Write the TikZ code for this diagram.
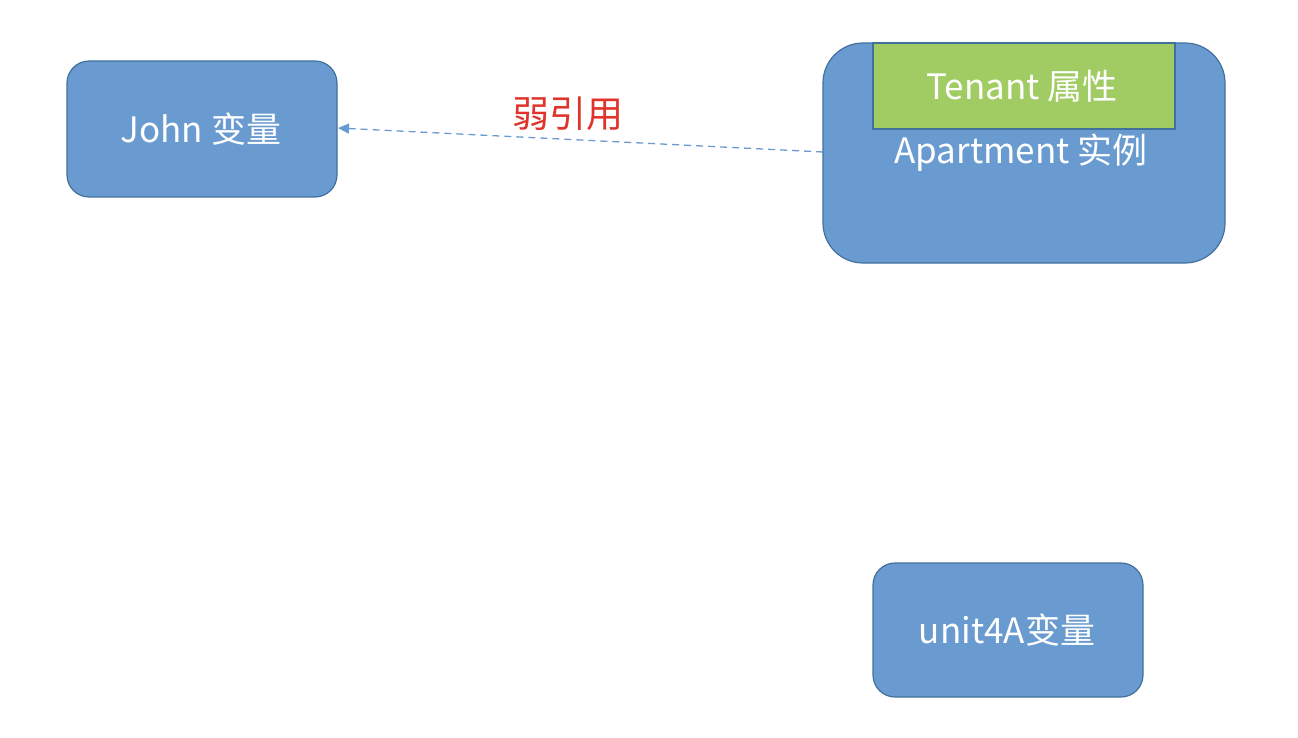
\documentclass[tikz,border=0pt]{standalone}
\usepackage{fontspec}
\setmainfont{Noto Sans CJK SC}
\usetikzlibrary{arrows.meta}
\definecolor{boxblue}{HTML}{6A9BD0}
\definecolor{boxline}{HTML}{41719C}
\definecolor{tgreen}{HTML}{A1CC63}
\definecolor{lblred}{HTML}{E0332A}
\tikzset{
  vbox/.style={draw=boxline, fill=boxblue, line width=1.2pt, rounded corners=22pt},
  lbl/.style={text=white, font=\fontsize{35}{40}\selectfont, inner sep=0pt},
  weak/.style={draw=boxblue, line width=1.3pt, dash pattern=on 7pt off 5pt, -{Triangle[length=11pt,width=10pt]}}
}
\begin{document}
\begin{tikzpicture}[x=1pt,y=-1pt]
\useasboundingbox (0,0) rectangle (1298,738);
% John
\draw[vbox] (67,61) rectangle (337,197);
\node[lbl] (john) at (201,129) {John 变量};
\coordinate (johnE) at (338,128);
% Apartment
\draw[vbox, rounded corners=40pt] (823,43) rectangle (1225,263);
\draw[draw=boxline, fill=tgreen, line width=1.2pt] (873,43) rectangle (1175,129);
\node[lbl] (tenant) at (1022,86) {Tenant 属性};
\node[lbl] (apt) at (1021,153) {Apartment 实例};
\coordinate (aptW) at (823,152);
% unit4A
\draw[vbox] (873,563) rectangle (1143,697);
\node[lbl] (unit) at (1007,630) {unit4A变量};
% weak reference
\draw[weak] (aptW) -- (johnE);
\node[text=lblred, font=\fontsize{37}{42}\selectfont, inner sep=0pt] (weaklbl) at (568,114) {弱引用};
\end{tikzpicture}
\end{document}
